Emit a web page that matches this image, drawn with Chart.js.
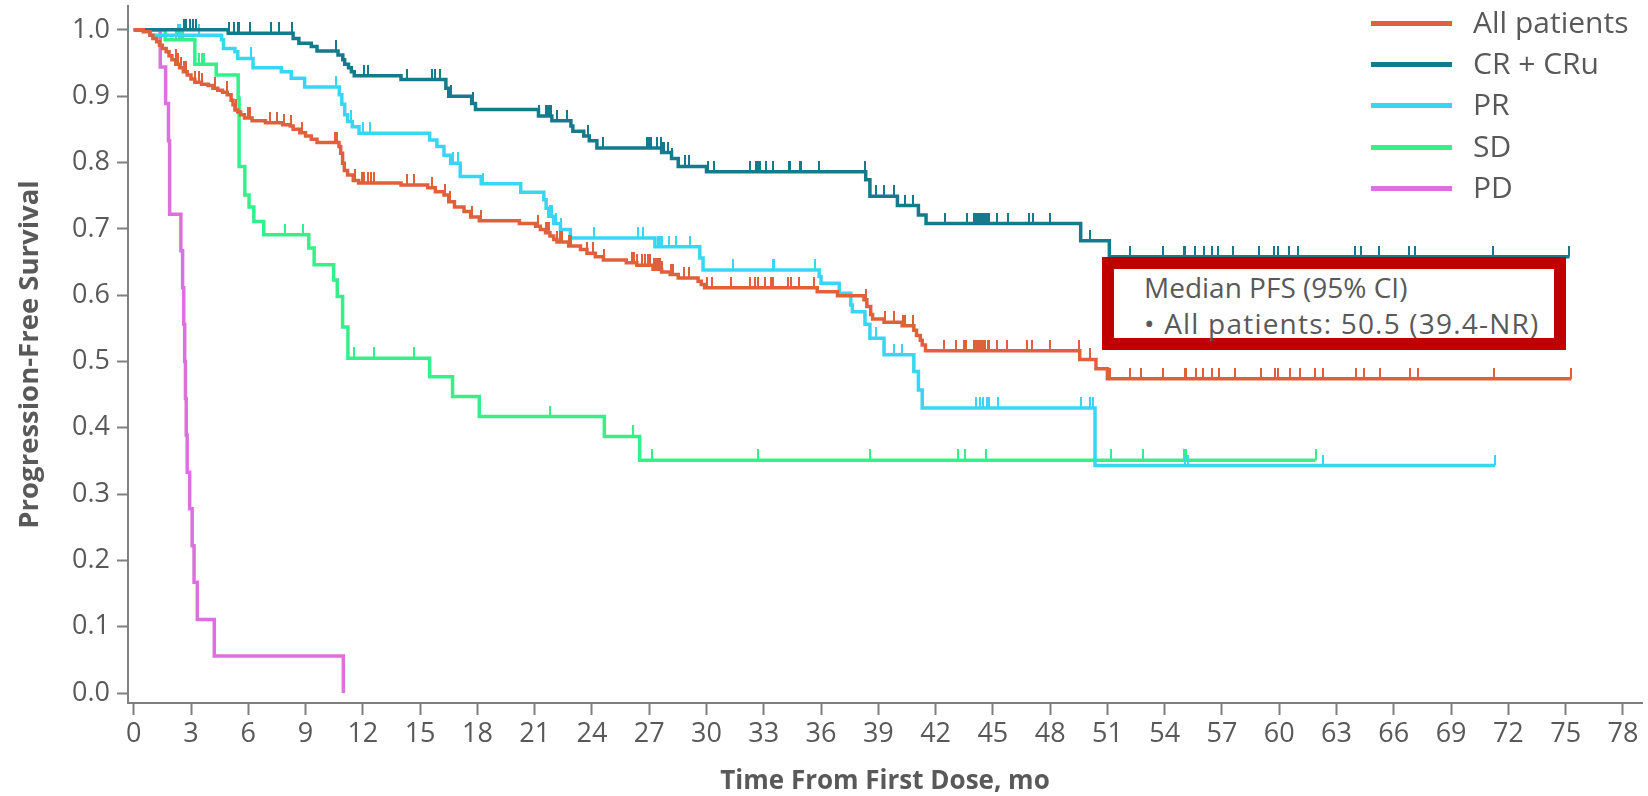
<!DOCTYPE html>
<html><head><meta charset="utf-8">
<script src="https://cdn.jsdelivr.net/npm/chart.js@4.4.1/dist/chart.umd.min.js"></script>
<style>
html,body{margin:0;padding:0;background:#fff;overflow:hidden;}
#wrap{position:relative;width:1648px;height:796px;}
#c{position:absolute;left:0;top:0;}
.leg{position:absolute;left:1371px;height:40px;display:flex;align-items:center;font:30px 'Open Sans',sans-serif;color:#595959;white-space:nowrap;}
.leg i{display:block;width:81px;height:5px;margin-right:21px;}
.leg span{position:relative;top:-2px;}
#box{position:absolute;left:1102px;top:257px;width:464px;height:93px;box-sizing:border-box;border:12px solid #C00000;background:#fff;font:28px 'Open Sans',sans-serif;color:#595959;line-height:36px;padding-left:30px;white-space:nowrap;}
#box .l2{letter-spacing:1.2px;}
</style></head><body>
<div id="wrap"><canvas id="c" width="1648" height="796"></canvas><div id="legend"></div>
<div id="box"><div>Median PFS (95% CI)</div><div class="l2">• All patients: 50.5 (39.4-NR)</div></div></div>
<script>
// ---- data ----
const seriesNames = ['All patients', 'CR + CRu', 'PR', 'SD', 'PD'];
const seriesColors = ['#E0603C', '#157A8C', '#38D6F2', '#34F08A', '#DC70DC'];
const xTickValues = [0,3,6,9,12,15,18,21,24,27,30,33,36,39,42,45,48,51,54,57,60,63,66,69,72,75,78];
const yTickValues = [0,0.1,0.2,0.3,0.4,0.5,0.6,0.7,0.8,0.9,1.0];

const allTime = [0,0.5,0.85,1.0,1.2,1.35,1.5,1.7,1.85,2.0,2.2,2.4,2.6,2.8,3.0,3.2,3.55,3.9,4.15,4.4,4.65,4.9,5.1,5.2,5.3,5.45,5.6,5.8,6.2,6.9,7.8,8.2,8.35,8.7,9.0,9.3,9.6,10.75,10.84,10.94,11.03,11.2,11.5,11.78,14.0,15.4,15.8,16.25,16.5,16.8,17.3,17.65,18.1,20.2,21.05,21.3,21.57,21.8,22.0,22.17,22.78,23.4,23.74,24.18,24.6,25.8,26.35,27.2,27.65,28.1,28.52,29.56,29.73,29.9,35.8,36.86,38.25,38.4,38.6,38.7,39.3,40.25,40.86,41.0,41.2,41.3,41.47,49.55,50.4,51.0,75.3];
const allSurv = [1.0,0.997,0.992,0.987,0.982,0.977,0.972,0.967,0.961,0.955,0.948,0.943,0.937,0.932,0.926,0.921,0.918,0.916,0.912,0.909,0.906,0.902,0.894,0.887,0.879,0.876,0.872,0.867,0.863,0.860,0.857,0.855,0.850,0.845,0.840,0.835,0.830,0.824,0.814,0.799,0.788,0.781,0.773,0.769,0.766,0.762,0.756,0.751,0.741,0.733,0.726,0.718,0.712,0.708,0.704,0.699,0.694,0.689,0.684,0.680,0.674,0.669,0.663,0.658,0.653,0.649,0.645,0.639,0.635,0.631,0.626,0.621,0.616,0.611,0.605,0.599,0.593,0.583,0.571,0.564,0.559,0.554,0.547,0.539,0.532,0.525,0.516,0.503,0.489,0.474,0.474];
const allCensor = [2.19,2.32,2.47,2.65,2.75,3.21,3.4,3.59,4.24,4.88,5.36,6.0,6.1,7.12,7.5,7.87,8.24,8.8,10.53,10.66,11.6,11.97,12.06,12.25,12.43,12.58,14.3,14.67,15.6,16.3,16.56,17.7,18.2,21.18,21.57,21.65,21.74,22.17,22.35,22.44,22.82,22.92,23.74,24.05,24.65,26.08,26.2,26.38,26.64,26.78,26.92,27.04,27.25,27.34,27.44,27.56,27.68,28.13,28.26,28.83,29.08,30.05,30.3,31.3,32.26,32.55,32.69,33.04,33.38,33.47,34.25,34.43,34.86,35.65,38.35,39.35,39.8,40.3,40.4,40.8,42.42,43.08,43.5,43.6,43.99,44.07,44.16,44.25,44.33,44.42,44.51,44.6,44.72,44.82,45.24,45.76,46.8,47.03,47.98,49.5,50.1,51.16,52.18,52.78,53.93,55.06,55.13,55.64,56.03,56.47,56.86,57.66,59.07,59.76,59.93,60.58,61.08,61.88,62.27,64.0,64.44,65.3,66.87,67.25,71.26,75.3];

const crTime = [0,4.95,8.35,8.65,9.3,9.6,10.7,10.95,11.05,11.25,11.4,11.55,14.0,16.35,16.5,17.7,17.9,21.2,21.9,22.9,23.0,23.57,23.86,24.26,27.65,28.17,28.52,30.0,38.34,38.56,40.0,41.1,41.5,49.6,51.1,75.2];
const crSurv = [1.0,0.995,0.987,0.980,0.975,0.968,0.962,0.955,0.948,0.943,0.937,0.931,0.925,0.912,0.900,0.889,0.880,0.870,0.863,0.855,0.847,0.840,0.833,0.822,0.815,0.806,0.794,0.786,0.774,0.749,0.735,0.721,0.708,0.682,0.658,0.658];
const crCensor = [2.65,2.75,2.93,3.12,3.27,4.98,5.26,5.45,5.54,6.1,7.2,7.6,8.3,10.6,12.06,12.25,14.3,15.6,15.8,16.06,16.6,17.75,21.25,21.57,21.65,21.74,21.83,22.17,22.69,23.8,24.6,26.9,27.0,27.1,27.4,27.6,27.7,27.8,28.0,28.2,28.9,29.1,30.1,30.4,32.3,32.6,32.65,32.7,32.8,33.1,33.5,34.3,34.4,34.9,34.95,35.9,38.3,38.9,39.3,39.8,40.4,40.8,42.5,43.67,43.99,44.1,44.2,44.3,44.37,44.5,44.6,44.7,44.8,45.2,45.8,46.9,47.1,48.0,50.1,52.2,53.9,55.0,55.04,55.6,56.08,56.5,56.8,57.6,58.95,59.7,59.95,60.5,61.0,63.96,64.3,65.2,66.8,67.1,71.2,75.2];

const prTime = [0,0.85,4.6,4.7,5.3,5.45,6.25,7.73,8.25,8.95,10.77,10.9,11.05,11.2,11.45,11.8,15.5,15.88,16.25,16.6,17.1,18.2,20.27,21.48,21.6,21.74,22.0,22.35,22.87,27.3,29.65,29.82,35.9,36.0,36.95,37.56,37.64,38.3,38.56,39.3,40.86,41.1,41.3,50.35,71.3];
const prSurv = [1.0,0.992,0.985,0.972,0.967,0.957,0.943,0.937,0.927,0.914,0.902,0.888,0.872,0.862,0.854,0.844,0.834,0.824,0.811,0.799,0.779,0.768,0.755,0.744,0.731,0.719,0.708,0.699,0.686,0.673,0.656,0.638,0.628,0.618,0.603,0.585,0.575,0.556,0.535,0.510,0.485,0.457,0.430,0.343,0.343];
const prCensor = [2.3,2.4,3.4,6.15,10.57,11.4,12.0,12.4,16.7,17.0,18.3,21.8,21.9,22.1,22.4,24.09,26.4,26.7,27.44,27.56,27.65,28.03,28.38,29.13,31.39,33.47,33.56,35.68,38.9,39.8,40.25,44.1,44.3,44.47,44.68,44.82,45.29,49.64,50.07,50.25,55.06,55.2,62.3,71.3];

const sdTime = [0,1.65,3.2,4.32,5.47,5.52,5.82,6.04,6.29,6.81,9.17,9.45,10.47,10.66,10.94,11.22,15.5,16.7,18.1,24.65,26.5,61.9];
const sdSurv = [1.0,0.985,0.948,0.932,0.897,0.794,0.751,0.733,0.711,0.691,0.671,0.646,0.623,0.598,0.552,0.505,0.477,0.447,0.417,0.387,0.351,0.351];
const sdCensor = [2.23,2.36,2.49,2.57,3.44,3.58,3.7,7.9,8.86,11.55,12.6,14.7,21.8,26.17,27.16,32.69,38.55,43.17,43.55,44.63,51.2,52.85,55.0,55.13,61.9];

const pdTime = [0,1.39,1.67,1.82,1.88,2.47,2.56,2.62,2.67,2.71,2.75,2.8,2.93,3.06,3.16,3.33,4.22,10.98];
const pdSurv = [1.0,0.944,0.889,0.833,0.722,0.667,0.611,0.556,0.5,0.444,0.389,0.333,0.278,0.222,0.167,0.111,0.056,0.0];
const pdCensor = [];

// ---- build ----
const curves = [
  [allTime, allSurv, allCensor],
  [crTime, crSurv, crCensor],
  [prTime, prSurv, prCensor],
  [sdTime, sdSurv, sdCensor],
  [pdTime, pdSurv, pdCensor]
];
function survAt(ts, ss, t){ let s = ss[0]; for (let i = 0; i < ts.length; i++){ if (ts[i] <= t) s = ss[i]; } return s; }
function censorMark(color){
  const c = document.createElement('canvas'); c.width = 2; c.height = 22;
  const g = c.getContext('2d'); g.fillStyle = color; g.fillRect(0, 0, 2, 11); return c;
}
const datasets = [];
curves.forEach(([ts, ss, cs], k) => {
  datasets.push({
    label: seriesNames[k], data: ts.map((t, i) => ({x: t, y: ss[i]})),
    stepped: 'before', borderColor: seriesColors[k], backgroundColor: seriesColors[k],
    borderWidth: 3.5, pointRadius: 0, fill: false, tension: 0, borderCapStyle: 'butt', borderJoinStyle: 'miter'
  });
  if (cs.length) datasets.push({
    label: seriesNames[k] + ' censored', data: cs.map(t => ({x: t, y: survAt(ts, ss, t)})),
    showLine: false, pointStyle: censorMark(seriesColors[k]), pointRadius: 5, pointHoverRadius: 5,
    borderColor: seriesColors[k], backgroundColor: seriesColors[k]
  });
});

// legend (HTML)
const leg = document.getElementById('legend');
seriesNames.forEach((n, i) => {
  const d = document.createElement('div'); d.className = 'leg';
  d.style.top = (23.3 + i * 41.25 - 20) + 'px';
  d.innerHTML = '<i style="background:' + seriesColors[i] + '"></i><span></span>';
  d.querySelector('span').textContent = n;
  leg.appendChild(d);
});

function draw(){
  Chart.defaults.font.family = "'Open Sans', sans-serif";
  Chart.defaults.color = '#595959';
  const axisGray = '#7f7f7f';
  new Chart(document.getElementById('c'), {
    type: 'line',
    data: { datasets },
    options: {
      responsive: false, animation: false, devicePixelRatio: 1,
      layout: { padding: { top: 6, right: 1, left: 0, bottom: 0 } },
      plugins: { legend: { display: false }, tooltip: { enabled: false } },
      events: [],
      scales: {
        x: {
          type: 'linear', min: -0.3, max: 79.0,
          afterBuildTicks: s => { s.ticks = xTickValues.map(v => ({value: v})); },
          afterFit: s => { s.height = 93; s.paddingLeft = 0; s.paddingRight = 0; },
          ticks: { autoSkip: false, maxRotation: 0, minRotation: 0, padding: 3, color: '#595959', font: { size: 27 }, callback: v => String(v) },
          grid: { drawOnChartArea: false, drawTicks: true, tickLength: 12, tickColor: axisGray, tickWidth: 2 },
          border: { display: true, color: axisGray, width: 2 },
          title: { display: true, text: 'Time From First Dose, mo', color: '#595959', font: { size: 26, weight: 'bold', lineHeight: 1 }, padding: { top: 0, bottom: 1 } }
        },
        y: {
          type: 'linear', min: -0.015, max: 1.036,
          afterBuildTicks: s => { s.ticks = yTickValues.map(v => ({value: v})); },
          afterFit: s => { s.width = 128; s.paddingTop = 0; s.paddingBottom = 0; },
          ticks: { padding: 7, color: '#595959', font: { size: 27 }, callback: v => Number(v).toFixed(1) },
          grid: { drawOnChartArea: false, drawTicks: true, tickLength: 11, tickColor: axisGray, tickWidth: 2 },
          border: { display: true, color: axisGray, width: 2 },
          title: { display: true, text: 'Progression-Free Survival', color: '#595959', font: { size: 27.5, weight: 'bold', lineHeight: 1 }, padding: { top: 16, bottom: 0 } }
        }
      }
    }
  });
}
if (document.fonts && document.fonts.load) {
  Promise.all([document.fonts.load('27px "Open Sans"'), document.fonts.load('bold 26px "Open Sans"')]).then(draw, draw);
} else { draw(); }
</script>
</body></html>
